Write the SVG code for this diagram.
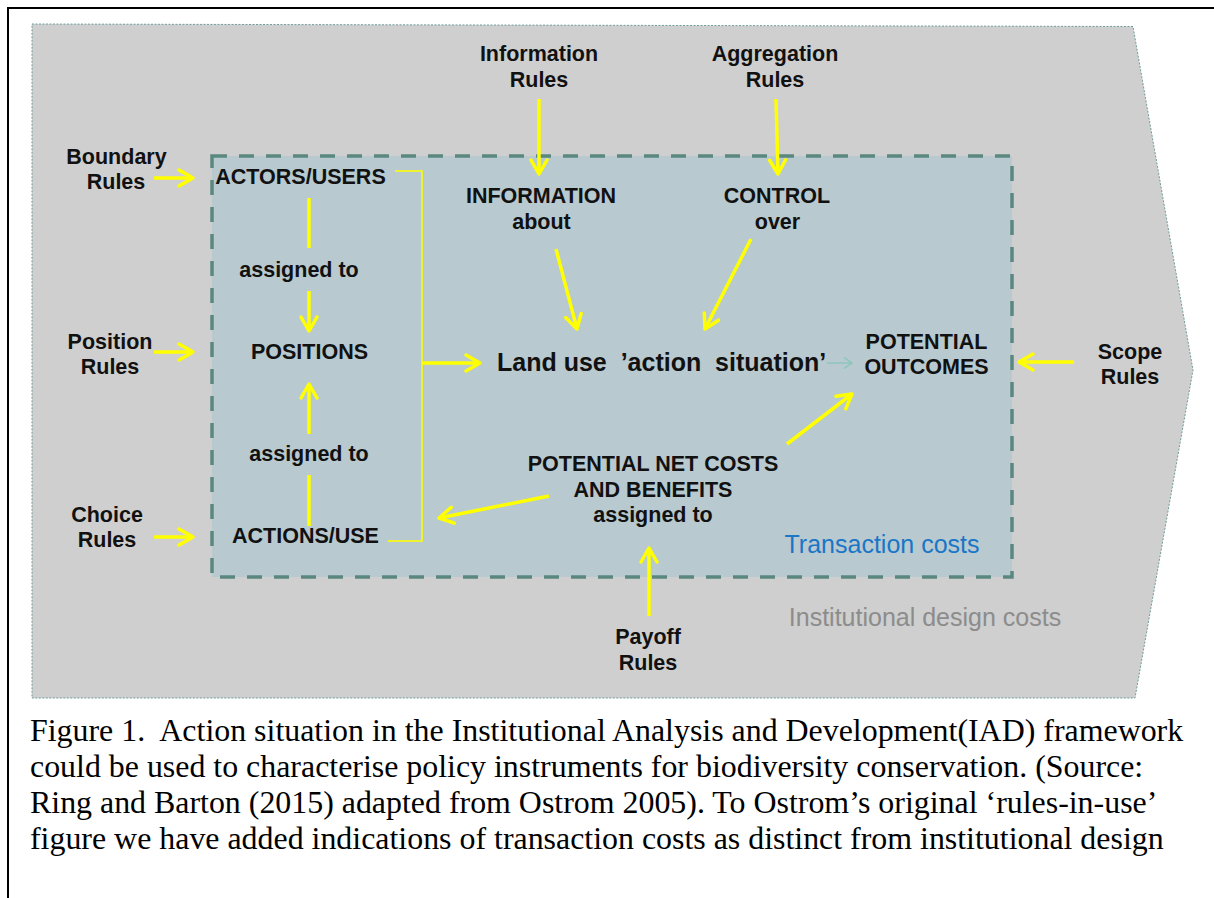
<svg xmlns="http://www.w3.org/2000/svg" width="1214" height="898" viewBox="0 0 1214 898">
  <style>
    .lbl { font-family: "Liberation Sans", Arial, sans-serif; font-weight: bold; font-size: 21.5px; fill: #111; text-anchor: middle; }
    .big { font-family: "Liberation Sans", Arial, sans-serif; font-weight: bold; font-size: 25px; fill: #111; }
    .cost { font-family: "Liberation Sans", Arial, sans-serif; font-size: 25px; }
    .cap { font-family: "Liberation Serif", "Times New Roman", serif; font-size: 31.9px; fill: #000; }
    .arr { fill: none; stroke: #ffff00; stroke-width: 3.5; marker-end: url(#ah); }
    .seg { fill: none; stroke: #ffff00; stroke-width: 3.5; }
    .thin { fill: none; stroke: #ffff00; stroke-width: 1.5; }
  </style>
  <defs>
    <marker id="ah" markerUnits="userSpaceOnUse" markerWidth="24" markerHeight="24" viewBox="-18 -12 24 24" refX="0" refY="0" orient="auto">
      <path d="M-14,-8 L0,0 L-14,8" fill="none" stroke="#ffff00" stroke-width="3.5" stroke-linejoin="round" stroke-linecap="round"/>
    </marker>
    <marker id="ahs" markerUnits="userSpaceOnUse" markerWidth="14" markerHeight="14" viewBox="-10 -7 14 14" refX="0" refY="0" orient="auto">
      <path d="M-8,-5.5 L0,0 L-8,5.5" fill="none" stroke="#86c6b8" stroke-width="1.3"/>
    </marker>
  </defs>

  <rect x="0" y="0" width="1214" height="898" fill="#ffffff"/>
  <path d="M8,898 L8,8 L1214,8" fill="none" stroke="#000" stroke-width="2"/>

  <g id="institutional-design-area">
    <polygon points="32,24 1133,26.5 1193,370 1135,698 32,698" fill="#cfcfcf" stroke="#6f9c9a" stroke-width="1" stroke-dasharray="2,1.5"/>
    <text class="cost" x="925" y="626" fill="#8c8c8c" text-anchor="middle">Institutional design costs</text>
  </g>

  <g id="action-arena">
    <rect x="212" y="156" width="800" height="421" fill="#b8c9cf" stroke="#5a887f" stroke-width="3.5" stroke-dasharray="15,12"/>
    <text class="cost" x="882" y="553" fill="#1a76c6" text-anchor="middle">Transaction costs</text>
  </g>

  <g id="connectors">
    <path class="arr" d="M154,178 L193,178"/>
    <path class="arr" d="M154,352 L193,352"/>
    <path class="arr" d="M154,537 L193,537"/>
    <path class="arr" d="M1074,362 L1019,362"/>
    <path class="arr" d="M539,99 L539,174"/>
    <path class="arr" d="M776,99 L778,174"/>
    <path class="seg" d="M309,198 L309,248"/>
    <path class="arr" d="M309,291 L309,331"/>
    <path class="seg" d="M309,526 L309,475"/>
    <path class="arr" d="M309,434 L309,384"/>
    <path class="thin" d="M395,171 H422 V541 H388"/>
    <path class="arr" d="M422,363 L480,363"/>
    <path class="arr" d="M556,249 L577,329"/>
    <path class="arr" d="M751,239 L705,329"/>
    <path d="M827,363 L852,363" fill="none" stroke="#86c6b8" stroke-width="1.3" marker-end="url(#ahs)"/>
    <path class="arr" d="M787,444 L852,394"/>
    <path class="arr" d="M549,496 L439,518"/>
    <path class="arr" d="M649,616 L649,548"/>
  </g>

  <g id="boundary-rules"><text class="lbl" x="116.5" y="164">Boundary</text><text class="lbl" x="116" y="189">Rules</text></g>
  <g id="position-rules"><text class="lbl" x="110" y="349">Position</text><text class="lbl" x="110" y="374">Rules</text></g>
  <g id="choice-rules"><text class="lbl" x="107" y="522">Choice</text><text class="lbl" x="107" y="547">Rules</text></g>
  <g id="information-rules"><text class="lbl" x="539" y="61">Information</text><text class="lbl" x="539" y="87">Rules</text></g>
  <g id="aggregation-rules"><text class="lbl" x="775" y="61">Aggregation</text><text class="lbl" x="775" y="87">Rules</text></g>
  <g id="scope-rules"><text class="lbl" x="1130" y="359">Scope</text><text class="lbl" x="1130" y="384">Rules</text></g>
  <g id="payoff-rules"><text class="lbl" x="648" y="644">Payoff</text><text class="lbl" x="648" y="670">Rules</text></g>

  <g id="actors-users"><text class="lbl" x="300.5" y="184">ACTORS/USERS</text></g>
  <g id="assigned-to-1"><text class="lbl" x="299" y="277">assigned to</text></g>
  <g id="positions"><text class="lbl" x="309.5" y="359">POSITIONS</text></g>
  <g id="assigned-to-2"><text class="lbl" x="309" y="461">assigned to</text></g>
  <g id="actions-use"><text class="lbl" x="305.5" y="543">ACTIONS/USE</text></g>
  <g id="information-about"><text class="lbl" x="541" y="203">INFORMATION</text><text class="lbl" x="541.5" y="229">about</text></g>
  <g id="control-over"><text class="lbl" x="777" y="203">CONTROL</text><text class="lbl" x="777.5" y="229">over</text></g>
  <g id="action-situation"><text class="big" x="497" y="371" xml:space="preserve">Land use  ’action  situation’</text></g>
  <g id="potential-outcomes"><text class="lbl" x="926.5" y="349">POTENTIAL</text><text class="lbl" x="926.5" y="374">OUTCOMES</text></g>
  <g id="net-costs-benefits"><text class="lbl" x="653" y="471">POTENTIAL NET COSTS</text><text class="lbl" x="653" y="497">AND BENEFITS</text><text class="lbl" x="653" y="522">assigned to</text></g>

  <g id="caption">
    <text class="cap" x="30" y="741" xml:space="preserve">Figure 1.  Action situation in the Institutional Analysis and Development(IAD) framework</text>
    <text class="cap" x="30" y="777">could be used to characterise policy instruments for biodiversity conservation. (Source:</text>
    <text class="cap" x="30" y="813">Ring and Barton (2015) adapted from Ostrom 2005). To Ostrom’s original ‘rules-in-use’</text>
    <text class="cap" x="30" y="849">figure we have added indications of transaction costs as distinct from institutional design</text>
  </g>
</svg>
